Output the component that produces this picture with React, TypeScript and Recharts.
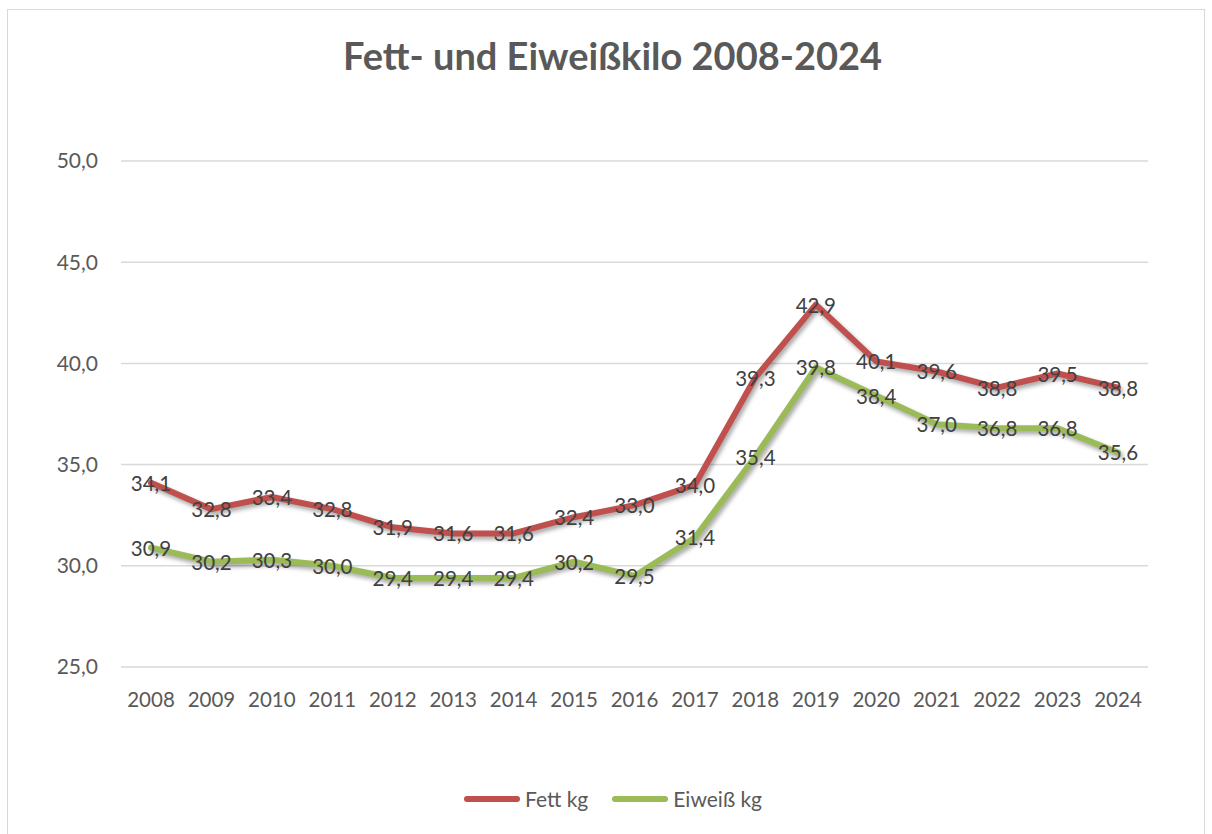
import React from "react";
import { LineChart, Line, XAxis, YAxis, CartesianGrid, LabelList } from "recharts";

const years = ["2008","2009","2010","2011","2012","2013","2014","2015","2016","2017","2018","2019","2020","2021","2022","2023","2024"];
const fett = [34.1, 32.8, 33.4, 32.8, 31.9, 31.6, 31.6, 32.4, 33.0, 34.0, 39.3, 42.9, 40.1, 39.6, 38.8, 39.5, 38.8];
const eiweiss = [30.9, 30.2, 30.3, 30.0, 29.4, 29.4, 29.4, 30.2, 29.5, 31.4, 35.4, 39.8, 38.4, 37.0, 36.8, 36.8, 35.6];
const yTicks = [25, 30, 35, 40, 45, 50];

const data = years.map((y, i) => ({ year: y, fett: fett[i], eiweiss: eiweiss[i] }));

const FONT = "Lato, 'Open Sans', sans-serif";
const fmt = (v: number) => v.toFixed(1).replace(".", ",");

const renderLabel = (props: any) => {
  const { x, y, value } = props;
  return (
    <text x={x} y={y} textAnchor="middle" dominantBaseline="central" fontSize={20.5} fill="#404040" fontFamily={FONT}>
      {fmt(value)}
    </text>
  );
};

export default function App() {
  return (
    <div style={{ position: "fixed", left: 0, top: 0, width: 1212, height: 834, background: "#fff", overflow: "hidden", fontFamily: FONT }}>
      <style>{`.shadowline path { filter: drop-shadow(2px 3px 2px rgba(0,0,0,0.35)); }`}</style>
      <div style={{ position: "absolute", left: 7, top: 9, width: 1198, height: 840, border: "1.5px solid #d9d9d9", boxSizing: "border-box" }} />
      <div style={{ position: "absolute", left: 0, top: 32, width: 1225, textAlign: "center", fontSize: 38, fontWeight: 700, color: "#595959" }}>
        Fett- und Eiweißkilo 2008-2024
      </div>
      <div style={{ position: "absolute", left: 0, top: 0 }}>
        <LineChart width={1212} height={834} data={data} margin={{ top: 161, right: 64, left: 61, bottom: 137 }}>
          <CartesianGrid vertical={false} stroke="#d9d9d9" strokeWidth={1.5} />
          <XAxis dataKey="year" axisLine={false} tickLine={false} height={30} tickMargin={19}
            padding={{ left: 30, right: 30 }}
            tick={{ fontSize: 20.5, fill: "#595959", fontFamily: FONT }} interval={0} />
          <YAxis domain={[25, 50]} ticks={yTicks} axisLine={false} tickLine={false} width={60} tickMargin={17}
            tickFormatter={fmt} tick={{ fontSize: 21, fill: "#595959", fontFamily: FONT }} />
          <Line className="shadowline" type="linear" dataKey="fett" stroke="#C0504D" strokeWidth={6} dot={false} isAnimationActive={false} strokeLinejoin="round" strokeLinecap="round">
            <LabelList dataKey="fett" content={renderLabel} />
          </Line>
          <Line className="shadowline" type="linear" dataKey="eiweiss" stroke="#9BBB59" strokeWidth={6} dot={false} isAnimationActive={false} strokeLinejoin="round" strokeLinecap="round">
            <LabelList dataKey="eiweiss" content={renderLabel} />
          </Line>
        </LineChart>
      </div>
      <div style={{ position: "absolute", top: 786, left: 464, display: "flex", alignItems: "center", fontSize: 21, color: "#595959" }}>
        <span style={{ display: "inline-block", width: 56, height: 6, borderRadius: 3, background: "#C0504D", marginRight: 5 }} />
        <span>Fett kg</span>
        <span style={{ display: "inline-block", width: 56, height: 6, borderRadius: 3, background: "#9BBB59", marginLeft: 24, marginRight: 5 }} />
        <span>Eiweiß kg</span>
      </div>
    </div>
  );
}
